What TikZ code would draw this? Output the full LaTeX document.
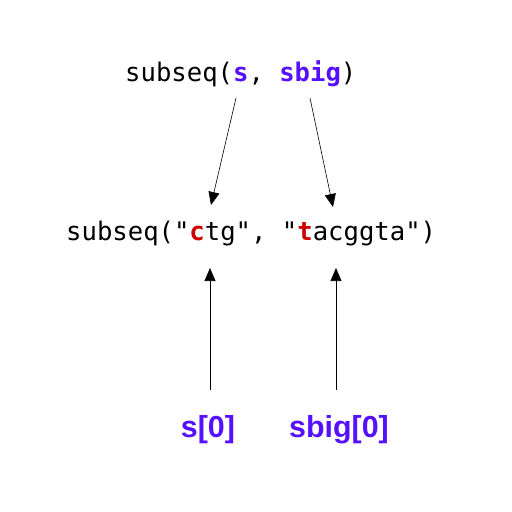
\documentclass[tikz,border=0pt]{standalone}
\usepackage{fontspec}
\setmainfont{Liberation Sans}
\newfontfamily\codefont{DejaVu Sans Mono}
\usetikzlibrary{arrows.meta}
\definecolor{hlblue}{RGB}{85,17,255}
\definecolor{hlred}{RGB}{204,0,0}
\tikzset{
  code/.style={inner sep=0pt, font=\codefont\fontsize{25.6}{30}\selectfont},
  lbl/.style={inner sep=0pt, text=hlblue, font=\bfseries\fontsize{30.4}{36}\selectfont},
  arr/.style={-{Triangle[length=13pt,width=11pt]}, line width=0.6pt}
}
\begin{document}
\begin{tikzpicture}[x=1pt,y=-1pt]
\useasboundingbox (0,0) rectangle (512,512);
\node[code, anchor=base west] (top) at (125,81) {subseq(\textcolor{hlblue}{\bfseries s}, \textcolor{hlblue}{\bfseries sbig})};
\node[code, anchor=base west] (mid) at (66,240) {subseq("\textcolor{hlred}{\bfseries c}tg", "\textcolor{hlred}{\bfseries t}acggta")};
\node[lbl, anchor=base] (s0) at (208,437) {s[0]};
\node[lbl, anchor=base] (sb0) at (339,437) {sbig[0]};
\coordinate (a1s) at (236,98);
\coordinate (a1e) at (211,205);
\coordinate (a2s) at (310,98);
\coordinate (a2e) at (333,207);
\coordinate (b1s) at (210,390);
\coordinate (b1e) at (210,268);
\coordinate (b2s) at (336,390);
\coordinate (b2e) at (336,268);
\draw[arr] (a1s) -- (a1e);
\draw[arr] (a2s) -- (a2e);
\draw[arr] (b1s) -- (b1e);
\draw[arr] (b2s) -- (b2e);
\end{tikzpicture}
\end{document}
